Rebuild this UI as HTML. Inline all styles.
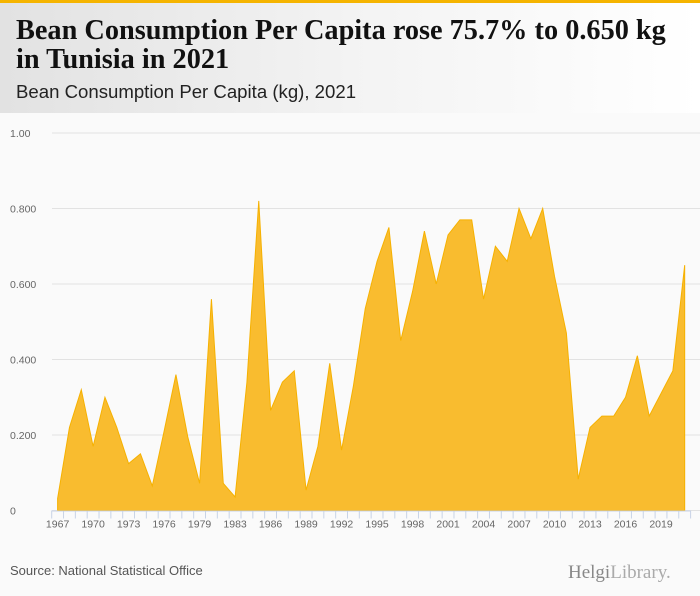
<!DOCTYPE html>
<html><head><meta charset="utf-8"><style>
body{margin:0;width:700px;height:596px;background:#fafafa;overflow:hidden;font-family:"Liberation Sans",sans-serif;position:relative}
#topbar{position:absolute;left:0;top:0;width:700px;height:3px;background:#f5b400}
#header{position:absolute;left:0;top:3px;width:700px;height:110px;background:linear-gradient(90deg,#e2e2e2,#f3f3f3 50%,#fff)}
#title{position:absolute;left:16px;top:13px;font-family:"Liberation Serif",serif;font-weight:bold;font-size:28.3px;line-height:29px;color:#111}
#subtitle{position:absolute;left:16px;top:78px;font-size:18.6px;color:#222}
#source{position:absolute;left:10px;top:563px;font-size:13px;color:#555}
#logo{position:absolute;left:568px;top:562px;font-family:"Liberation Serif",serif;font-size:19px;color:#888}
svg{position:absolute;left:0;top:0}
</style></head><body>
<div id="topbar"></div>
<div id="header">
<div id="title">Bean Consumption Per Capita rose 75.7% to 0.650 kg<br>in Tunisia in 2021</div>
<div id="subtitle">Bean Consumption Per Capita (kg), 2021</div>
</div>
<svg id="chart" width="700" height="596"></svg>
<div id="source">Source: National Statistical Office</div>
<div id="logo">Helgi<span style="font-weight:normal;color:#aaa">Library.</span></div>
<script>
const years=[1967,1968,1969,1970,1971,1972,1973,1974,1975,1976,1977,1978,1979,1980,1981,1983,1984,1985,1986,1987,1988,1989,1990,1991,1992,1993,1994,1995,1996,1997,1998,1999,2000,2001,2002,2003,2004,2005,2006,2007,2008,2009,2010,2011,2012,2013,2014,2015,2016,2017,2018,2019,2020,2021];
const values=[0.032,0.22,0.32,0.17,0.30,0.22,0.124,0.15,0.065,0.21,0.36,0.195,0.072,0.56,0.072,0.036,0.34,0.82,0.265,0.34,0.37,0.054,0.17,0.39,0.16,0.33,0.535,0.66,0.75,0.45,0.58,0.74,0.60,0.73,0.77,0.77,0.56,0.70,0.66,0.80,0.72,0.80,0.62,0.47,0.083,0.22,0.25,0.25,0.30,0.41,0.25,0.31,0.37,0.65];
const yTicks=[0,0.2,0.4,0.6,0.8,1.0];
const yTickLabels=["0","0.200","0.400","0.600","0.800","1.00"];
const NS="http://www.w3.org/2000/svg";
const svg=document.getElementById('chart');
const left=51.7,right=690.6,y0=510.5,y1=133;
const band=(right-left)/years.length;
const xs=i=>left+band*(i+0.5);
const ys=v=>y0-(y0-y1)*v;
function mk(t,a){const e=document.createElementNS(NS,t);for(const k in a)e.setAttribute(k,a[k]);svg.appendChild(e);return e;}
yTicks.forEach((t,i)=>{
 const g=mk('line',{x1:52,x2:700,y1:ys(t),y2:ys(t),stroke:'#e2e2e2','stroke-width':1});
 
 
 const l=mk('text',{x:10,y:ys(t)+4,'font-size':'10.5','fill':'#666','font-family':'Liberation Sans, sans-serif'});
 l.textContent=yTickLabels[i];
 
 
});
let d='M'+xs(0)+','+y0;
values.forEach((v,i)=>{d+=' L'+xs(i)+','+ys(v);});
d+=' L'+xs(values.length-1)+','+y0+' Z';
const area=mk('path',{d:d,fill:'#f9bc2f',stroke:'#f6b100','stroke-width':1});


const ax=mk('line',{x1:left,x2:right,y1:y0+0.5,y2:y0+0.5,stroke:'#c8d3e6'});


for(let i=0;i<=years.length;i++){
 const t=mk('line',{x1:left+band*i,x2:left+band*i,y1:y0,y2:y0+8,stroke:'#c8d3e6'});
 
 
}
years.forEach((yr,i)=>{
 if(i%3!==0)return;
 const l=mk('text',{x:xs(i),y:y0+17,'font-size':'10.5','fill':'#666','text-anchor':'middle','font-family':'Liberation Sans, sans-serif'});
 l.textContent=yr;
 
 
});
</script>
</body></html>
